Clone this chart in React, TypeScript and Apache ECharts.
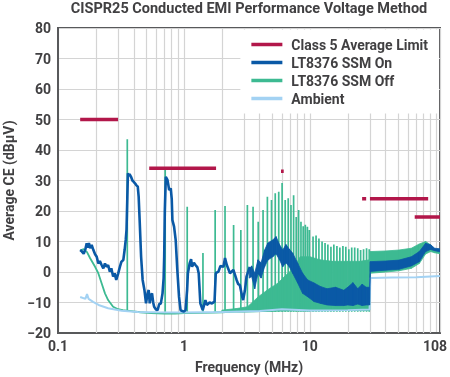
import React, { useEffect, useRef } from 'react';
import * as echarts from 'echarts';

// ---------- data ----------
const limitStart = [0.15, 0.53, 5.9, 26, 30, 68];
const limitEnd = [0.3, 1.8, 6.2, 28, 87, 108];
const limitLevel = [50, 34, 33, 24, 24, 18];

// LT8376 SSM On – detailed trace, 0.15–3.3 MHz
const onFreq = [0.15, 0.155, 0.16, 0.165, 0.169, 0.172, 0.176, 0.18, 0.185, 0.191, 0.197, 0.203, 0.209, 0.215, 0.222, 0.229, 0.236, 0.243, 0.25, 0.258, 0.265, 0.274, 0.282, 0.29, 0.3, 0.31, 0.319, 0.33, 0.338, 0.345, 0.35, 0.355, 0.359, 0.365, 0.37, 0.38, 0.39, 0.398, 0.41, 0.418, 0.43, 0.437, 0.445, 0.457, 0.47, 0.486, 0.5, 0.515, 0.525, 0.535, 0.548, 0.558, 0.57, 0.58, 0.6, 0.618, 0.637, 0.656, 0.676, 0.69, 0.697, 0.705, 0.718, 0.74, 0.752, 0.763, 0.786, 0.8, 0.81, 0.835, 0.86, 0.886, 0.914, 0.94, 0.97, 1.0, 1.03, 1.06, 1.075, 1.11, 1.14, 1.16, 1.2, 1.235, 1.28, 1.31, 1.35, 1.41, 1.48, 1.52, 1.6, 1.67, 1.75, 1.79, 1.88, 1.95, 2.06, 2.12, 2.19, 2.32, 2.47, 2.62, 2.7, 2.78, 2.9, 2.95, 3.05, 3.14, 3.33];
const onVal = [7.2, 6.7, 6, 7.5, 9.4, 8, 9.5, 7.8, 8.9, 7.2, 5.8, 5, 2.8, 3.6, 2.3, 1.2, 2.8, 1.7, 2.3, 0.1, 1.2, -1.5, -0.4, -2.6, -0.6, 1.7, 3.4, 3.9, 7.2, 10.5, 13.8, 24, 32.4, 31.5, 32.1, 31.2, 30, 29.6, 29, 28.5, 28, 24.7, 17, 5, -2.6, -6, -10.3, -7, -5.9, -10.3, -7.5, -7, -10, -11.4, -12.3, -12.5, -10.5, -10.3, -7, -2, 5, 20, 31.2, 30.2, 28.5, 26.9, 27.4, 24, 17, 14.9, 10.5, 0.7, -8.1, -12.5, -12.8, -13, -12.5, -5.9, -0.4, 2.8, 4.2, 1.7, 3, 2.3, 1.5, -0.4, -10.3, -12.5, -9.2, -10.8, -10, -10.3, -9.7, -0.4, 0.1, 2, 1.7, 4.6, 2.3, -0.4, 0.7, -2.6, -4, -4.3, -8, -9.2, -6, -1.5, 1.7];

// LT8376 SSM On – noisy band, 3.3–108 MHz (lower / upper edge)
const onBandFreq = [3.3, 3.45, 3.65, 3.87, 4.1, 4.37, 4.64, 5.08, 5.39, 5.74, 6.09, 6.46, 6.87, 7.3, 8.0, 8.76, 9.6, 10.8, 12.2, 13.7, 16, 18.6, 20, 22, 24, 26, 28, 29.8, 30.2, 40, 51, 64, 74, 83, 91, 98, 108];
const onBandLow = [-2, -1.5, -5.5, -0.5, -2, 1.7, 3.9, 5, 6, 4, 1.7, 3, 1.7, -0.4, -3.6, -7, -8.1, -9.7, -10.3, -10.8, -11, -11, -10.8, -11, -10.5, -11, -10.8, -10.8, 0.2, 0.6, 0.9, 2, 3.4, 6.7, 7.4, 7, 6.6];
const onBandHigh = [1, 2, -0.4, 4, 3, 7.2, 9.5, 10.5, 11.6, 9, 7.2, 9, 7.5, 6.2, 2.9, -0.4, -2.6, -3.6, -4.8, -5.5, -5, -6, -5, -3.5, -5.5, -4, -5, -5, 3.4, 3.6, 3.9, 5, 6.7, 9.4, 8.9, 7.8, 7.6];

// LT8376 SSM Off – floor trace
const offFreq = [0.15, 0.16, 0.17, 0.18, 0.197, 0.209, 0.222, 0.236, 0.25, 0.274, 0.3, 0.327, 0.38, 0.45, 0.55, 0.7, 0.85, 1, 1.3, 1.7, 2, 2.5, 3, 4, 6, 10, 20, 29.8];
const offVal = [7, 7.5, 6.5, 4.5, 1.7, -0.4, -3.7, -7, -9.2, -11.4, -12.2, -12.5, -12.8, -13.2, -13.5, -13.6, -13.6, -13.5, -13.4, -13.3, -13.2, -13, -13, -12.8, -12.6, -12.6, -12.5, -12.4];
const offFloor = -13;
// LT8376 SSM Off – switching harmonics (frequency, peak)
const offSpikeFreq = [0.355, 0.71, 1.062, 1.416, 1.77, 2.12, 2.48, 2.83, 3.19, 3.54, 3.89, 4.25, 4.6, 4.96, 5.31, 5.66, 6.02, 6.37, 6.73, 7.08, 7.43, 7.79, 8.14, 8.5, 8.85, 9.2, 9.56, 9.91, 10.6, 11.2, 11.8, 12.5, 13.2, 13.9, 14.7, 15.5, 16.4, 17.3, 18.3, 19.3, 20.4, 21.5, 22.7, 24, 25.3, 26.7, 28.2, 29.6];
const offSpikePeak = [43.5, 34, 21.4, 6.2, 20.3, 21.6, 15.4, 13.8, 22, 21.4, 16.5, 20.3, 24.7, 23.6, 25.8, 26.3, 29.2, 23.6, 24.2, 22, 25.2, 18, 20.3, 16.5, 15, 15.5, 14.8, 13.8, 11.6, 12, 11, 10, 9.5, 9, 8.3, 9, 8.5, 8, 8.5, 8.3, 7.5, 8, 8, 7.8, 7.2, 7.5, 7.8, 7.5];
// LT8376 SSM Off – dense band (lower / upper edge)
const offBandFreq = [2.0, 2.6, 3.2, 3.9, 4.6, 5.6, 6.1, 7.3, 8.4, 10, 12, 15, 20, 25, 29.8, 30.2, 40, 51, 64, 74, 83, 91, 98, 108];
const offBandLow = [-13, -13, -13, -13, -12.9, -12.8, -12.8, -12.7, -12.7, -12.7, -12.6, -12.6, -12.5, -12.5, -12.5, -0.4, 0, 0.4, 1.2, 2.8, 5.9, 6.7, 6.3, 6];
const offBandHigh = [-12.5, -12, -11.4, -8.1, -5.9, -3.6, -2, 1, 5, 5, 4, 3.5, 3.5, 3.5, 4, 6.7, 6.9, 7.2, 7.8, 9.2, 10, 8.9, 7.2, 7];

// Ambient
const ambFreq = [0.15, 0.165, 0.17, 0.175, 0.19, 0.21, 0.25, 0.32, 0.43, 0.6, 1, 2, 4, 6, 10, 20, 29.8, 30.2, 45, 70, 108];
const ambVal = [-8.2, -8.8, -7.2, -8.8, -9.8, -10.8, -11.9, -12.7, -13.1, -13.2, -13.3, -13.1, -12.8, -12.2, -12.6, -12.5, -12.3, -2, -1.8, -1.7, -1.3];

// minor vertical gridlines
const minorGrid = [0.2, 0.3, 0.4, 0.5, 0.6, 0.7, 0.8, 0.9, 2, 3, 4, 5, 6, 7, 8, 9, 20, 30, 40, 50, 60, 70, 80, 90];

const TITLE = 'CISPR25 Conducted EMI Performance Voltage Method';
const NAMES = ['Class 5 Average Limit', 'LT8376 SSM On', 'LT8376 SSM Off', 'Ambient'];
const COLORS = ['#b2174a', '#0a59a6', '#3dba92', '#a3d2f3'];

const FONT = 'Roboto, "Noto Sans", sans-serif';
const TXT = '#414042';
const AX = '#58595b';
const GRID = '#d4d4d4';

function bandSeries(name: string, freq: number[], lo: number[], hi: number[], color: string, z: number) {
  return {
    type: 'custom', name, z, silent: true, clip: true,
    data: freq.map((f, i) => [f, lo[i], hi[i]]),
    encode: { x: 0, y: [1, 2] },
    renderItem: (params: any, api: any) => {
      const i = params.dataIndex;
      if (i >= freq.length - 1) return null;
      const pts = [
        api.coord([freq[i], lo[i]]),
        api.coord([freq[i], hi[i]]),
        api.coord([freq[i + 1], hi[i + 1]]),
        api.coord([freq[i + 1], lo[i + 1]]),
      ];
      return { type: 'polygon', shape: { points: pts }, style: { fill: color, stroke: color, lineWidth: 0.8 } };
    },
  };
}

function buildOption() {
  const limitData: any[] = [];
  limitStart.forEach((s, i) => {
    limitData.push([s, limitLevel[i]], [limitEnd[i], limitLevel[i]]);
    if (i < limitStart.length - 1) limitData.push([limitEnd[i], '-']);
  });
  const spikeData: any[] = [];
  offSpikeFreq.forEach((f, i) => {
    spikeData.push([f, offFloor], [f, offSpikePeak[i]], [f, '-']);
  });
  const lbl = { fontFamily: FONT, fontWeight: 'bold' as const, fontSize: 14, color: TXT };
  const line = (name: string, data: any[], color: string, width: number, z: number, extra: any = {}) => ({
    type: 'line', name, data, color, z, symbol: 'none', showSymbol: false, silent: true,
    connectNulls: false,
    itemStyle: { color }, lineStyle: { color, width }, ...extra,
  });

  return {
    animation: false,
    graphic: [{
      type: 'text', x: 249, y: 1,
      style: { text: TITLE, fill: TXT, font: `bold 14.5px ${FONT}`, textAlign: 'center', align: 'center', textVerticalAlign: 'top', verticalAlign: 'top' },
    }],
    grid: { left: 58, right: 10, top: 28, bottom: 44, show: true, borderColor: AX, borderWidth: 2, containLabel: false, outerBoundsMode: 'none' },
    legend: {
      orient: 'vertical', right: 11, top: 29.5, backgroundColor: '#fff', z: 10,
      padding: [8, 11, 8, 11], itemWidth: 31, itemHeight: 3.5, itemGap: 4, icon: 'rect',
      itemStyle: { borderWidth: 0 },
      textStyle: { ...lbl, lineHeight: 13, padding: [0, 0, 0, 4] },
      data: NAMES,
    },
    xAxis: [
      {
        type: 'log', logBase: 10, min: 0.1, max: 108, position: 'bottom',
        axisLine: { show: true, onZero: false, lineStyle: { color: AX, width: 2 } },
        axisTick: { show: false },
        axisLabel: { ...lbl, margin: 6, formatter: (v: number) => (v >= 100 ? '' : String(+v.toPrecision(3))) },
        splitLine: { show: true, lineStyle: { color: GRID, width: 1.2 } },
        name: 'Frequency (MHz)', nameLocation: 'middle', nameGap: 27, nameTextStyle: lbl,
      },
      {
        type: 'value', min: 0, max: 108, interval: 108, position: 'bottom',
        axisLine: { show: false }, axisTick: { show: false }, splitLine: { show: false },
        axisLabel: { ...lbl, margin: 6, align: 'right', padding: [0, -7, 0, 0], formatter: (v: number) => (v === 108 ? '108' : '') },
      },
    ],
    yAxis: {
      type: 'value', min: -20, max: 80, interval: 10,
      axisLine: { show: true, onZero: false, lineStyle: { color: AX, width: 2 } },
      axisTick: { show: false },
      axisLabel: { ...lbl, margin: 7, formatter: (v: number) => String(v).replace('-', '\u2212') },
      splitLine: { show: true, lineStyle: { color: GRID, width: 1.2 } },
      name: 'Average CE (dB\u03bcV)', nameLocation: 'middle', nameGap: 41, nameRotate: 90, nameTextStyle: lbl,
    },
    series: [
      line(NAMES[0], limitData, COLORS[0], 3.5, 8),
      line(NAMES[1], onFreq.map((f, i) => [f, onVal[i]]), COLORS[1], 2.6, 5),
      bandSeries('onBand', onBandFreq, onBandLow, onBandHigh, COLORS[1], 5),
      line(NAMES[2], offFreq.map((f, i) => [f, offVal[i]]), COLORS[2], 1.8, 3),
      line('offSpikes', spikeData, COLORS[2], 1.7, 3),
      bandSeries('offBand', offBandFreq, offBandLow, offBandHigh, COLORS[2], 3),
      line(NAMES[3], ambFreq.map((f, i) => [f, ambVal[i]]), COLORS[3], 2, 4, {
        markLine: {
          silent: true, z: 1, symbol: ['none', 'none'], animation: false,
          label: { show: false }, emphasis: { disabled: true },
          lineStyle: { color: GRID, width: 1.2, type: 'solid' },
          data: minorGrid.map((v) => ({ xAxis: v })),
        },
      }),
    ],
  };
}

export default function App() {
  const ref = useRef<HTMLDivElement>(null);
  useEffect(() => {
    const chart = echarts.init(ref.current!, null, { renderer: 'svg' });
    chart.setOption(buildOption() as any);
    return () => chart.dispose();
  }, []);
  return <div ref={ref} style={{ position: 'fixed', left: 0, top: 0, width: 450, height: 377 }} />;
}
